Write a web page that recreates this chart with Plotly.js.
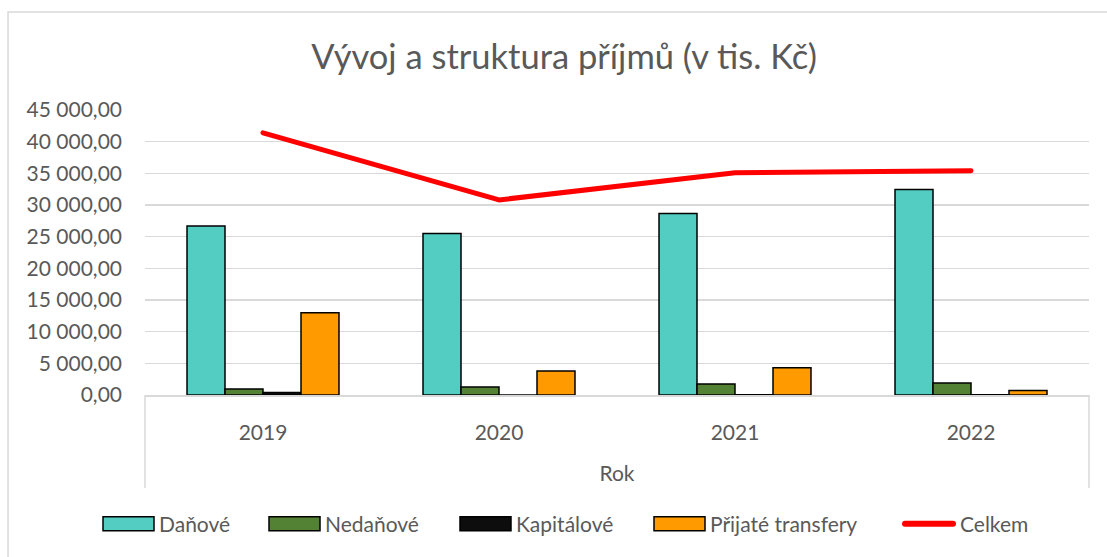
<!DOCTYPE html>
<html>
<head>
<meta charset="utf-8">
<script src="https://cdn.plot.ly/plotly-3.0.1.min.js"></script>
<style>html,body{margin:0;padding:0;background:#fff;}#chart{width:1107px;height:557px;}</style>
</head>
<body>
<div id="chart"></div>
<script>
const years = ['2019', '2020', '2021', '2022'];
const danove = [26700, 25500, 28650, 32450];
const nedanove = [950, 1250, 1750, 1900];
const kapitalove = [380, 0, 50, 30];
const transfery = [13000, 3800, 4300, 700];
const celkem = [41400, 30800, 35100, 35400];

const FONT = 'Lato, "Open Sans", sans-serif';
const GREY = '#595959';

const barLine = {color: '#000000', width: 1.5};
const traces = [
  {type: 'bar', name: 'Daňové', x: years, y: danove, marker: {color: '#53CDC2', line: barLine}},
  {type: 'bar', name: 'Nedaňové', x: years, y: nedanove, marker: {color: '#548235', line: barLine}},
  {type: 'bar', name: 'Kapitálové', x: years, y: kapitalove, marker: {color: '#0d0d0d', line: barLine}},
  {type: 'bar', name: 'Přijaté transfery', x: years, y: transfery, marker: {color: '#FF9A00', line: barLine}},
  {type: 'scatter', mode: 'lines', name: 'Celkem', x: years, y: celkem, line: {color: '#FF0000', width: 5}}
];

const layout = {
  width: 1107, height: 557,
  paper_bgcolor: '#ffffff', plot_bgcolor: '#ffffff',
  margin: {l: 145, r: 18, t: 110, b: 162},
  separators: ', ',
  font: {family: FONT, color: GREY, size: 21},
  title: {text: 'Vývoj a struktura příjmů (v tis. Kč)', font: {family: FONT, size: 34.5, color: GREY},
          x: 0.5095, xref: 'container', xanchor: 'center', y: 1 - 57/557, yref: 'container', yanchor: 'middle'},
  barmode: 'group', bargap: 0.356, bargroupgap: 0,
  xaxis: {type: 'category', showgrid: false, showline: true, linecolor: '#d9d9d9', linewidth: 1.5,
          ticks: '', tickfont: {size: 21, color: GREY}, ticklabelstandoff: 18,
          title: {text: 'Rok', font: {size: 21, color: GREY}, standoff: 23}},
  yaxis: {range: [0, 45000], dtick: 5000, tickformat: ',.2f', showgrid: true, gridcolor: '#d9d9d9', gridwidth: 1.5,
          zeroline: false, showline: false, ticks: '', tickfont: {size: 21, color: GREY}, ticklabelstandoff: 22, fixedrange: true},
  legend: {orientation: 'h', x: 0.447, xanchor: 'center', y: -0.4526, yanchor: 'middle', font: {size: 21, color: GREY},
           traceorder: 'normal', bgcolor: 'rgba(0,0,0,0)'},
  shapes: [
    {type: 'line', xref: 'paper', yref: 'paper', x0: 0, x1: 0, y0: 0, y1: -0.326, line: {color: '#d9d9d9', width: 1.5}},
    {type: 'line', xref: 'paper', yref: 'paper', x0: 1, x1: 1, y0: 0, y1: -0.326, line: {color: '#d9d9d9', width: 1.5}},
    {type: 'rect', xref: 'paper', yref: 'paper', x0: -0.1451, x1: 1.2, y0: -0.7, y1: 1.3439, line: {color: '#d9d9d9', width: 1.5}, fillcolor: 'rgba(0,0,0,0)'}
  ],
  showlegend: true
};

// Excel-style legend: wide swatches, item start positions (page px)
const legendStarts = [103, 269, 460, 654, 902];

function restyleLegend(gd) {
  gd.querySelectorAll('.legend [clip-path]').forEach(e => e.removeAttribute('clip-path'));
  const svgRect = gd.querySelector('svg.main-svg').getBoundingClientRect();
  const items = gd.querySelectorAll('.legend g.traces');
  items.forEach((g, i) => {
    const parentCTM = g.parentNode.getScreenCTM();
    const cur = g.getAttribute('transform') || '';
    const m = /translate\(\s*([-\d.]+)[ ,]+([-\d.]+)\s*\)/.exec(cur);
    const ty = m ? parseFloat(m[2]) : 0;
    const localX = legendStarts[i] + svgRect.left - parentCTM.e;
    g.setAttribute('transform', 'translate(' + localX + ',' + ty + ')');
    const isLine = i === 4;
    if (isLine) {
      g.querySelectorAll('.legendlines path, .legendpoints path').forEach(p => {
        p.removeAttribute('transform');
        p.setAttribute('d', 'M3,0H51');
        p.style.strokeLinecap = 'round';
        p.style.strokeWidth = '6px';
      });
    } else {
      g.querySelectorAll('.legendpoints path').forEach(p => {
        p.removeAttribute('transform');
        p.setAttribute('d', 'M0,7H51V-7H0Z');
      });
    }
    const tx = isLine ? 58 : 56;
    g.querySelectorAll('text.legendtext').forEach(t => {
      t.setAttribute('x', tx);
      t.querySelectorAll('tspan').forEach(s => { if (s.hasAttribute('x')) s.setAttribute('x', tx); });
    });
  });
  gd.querySelectorAll('.scatterlayer path.js-line').forEach(p => { p.style.strokeLinecap = 'round'; p.style.strokeLinejoin = 'round'; });
}

Plotly.newPlot('chart', traces, layout, {displayModeBar: false, staticPlot: true}).then(gd => restyleLegend(gd));
</script>
</body>
</html>
